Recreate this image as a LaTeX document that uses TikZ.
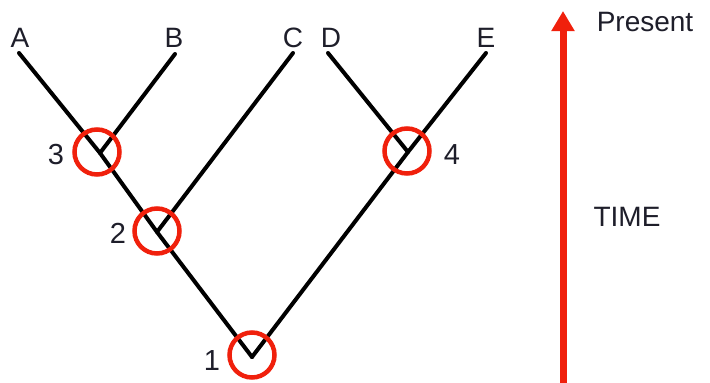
\documentclass[tikz,border=0pt]{standalone}
\usepackage{fontspec}
\setmainfont{Liberation Sans}
\usetikzlibrary{arrows.meta}
\definecolor{branchred}{RGB}{240,32,12}
\definecolor{labelink}{RGB}{30,30,42}
\begin{document}
\begin{tikzpicture}[x=1pt,y=-1pt,
  branch/.style={line width=4pt,black,line cap=round,line join=round},
  splitring/.style={circle,draw=branchred,line width=4.5pt,minimum size=45pt,inner sep=0pt},
  tiplabel/.style={text=labelink,font=\fontsize{28}{28}\selectfont,inner sep=0pt},
  numlabel/.style={text=labelink,font=\fontsize{29}{29}\selectfont,inner sep=0pt},
  timelabel/.style={text=labelink,font=\fontsize{28}{28}\selectfont,inner sep=0pt}]
\useasboundingbox (0,0) rectangle (710,383);

% branch tips and split points
\coordinate (tA) at (19,53);
\coordinate (tB) at (175,54);
\coordinate (tC) at (293,53);
\coordinate (tD) at (328,53);
\coordinate (tE) at (486,53);
\coordinate (v3) at (100,153);
\coordinate (v2) at (157,232);
\coordinate (v4) at (408,152);
\coordinate (v1) at (252,357);

% tree branches
\draw[branch] (tA) -- (v3) -- (v2) -- (v1);
\draw[branch] (tB) -- (v3);
\draw[branch] (tC) -- (v2);
\draw[branch] (tD) -- (v4) -- (v1);
\draw[branch] (tE) -- (v4);

% rings around the split points
\node[splitring] (c3) at (97,152) {};
\node[splitring] (c2) at (157,231) {};
\node[splitring] (c4) at (407,151) {};
\node[splitring] (c1) at (252,355) {};

% tip names
\node[tiplabel] (lA) at (20,38) {A};
\node[tiplabel] (lB) at (174,38) {B};
\node[tiplabel] (lC) at (293,38) {C};
\node[tiplabel] (lD) at (331,38) {D};
\node[tiplabel] (lE) at (486,38) {E};

% split point numbers
\node[numlabel] (n3) at (56,155) {3};
\node[numlabel] (n2) at (118,233) {2};
\node[numlabel] (n1) at (212,361) {1};
\node[numlabel] (n4) at (452,155) {4};

% time axis
\coordinate (tbot) at (563,383);
\coordinate (ttop) at (563,11);
\draw[branchred,line width=7pt,-{Triangle[length=20pt,width=22pt]}] (tbot) -- (ttop);
\node[timelabel] (present) at (645,22) {Present};
\node[timelabel] (time) at (627,217) {TIME};
\end{tikzpicture}
\end{document}
